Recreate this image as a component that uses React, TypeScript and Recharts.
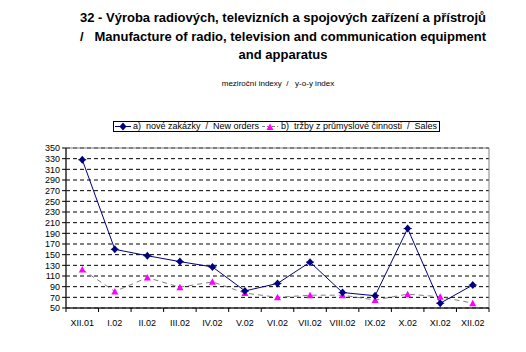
import { LineChart, Line, XAxis, YAxis, CartesianGrid, ReferenceArea } from "recharts";

const MONTHS = ["XII.01", "I.02", "II.02", "III.02", "IV.02", "V.02", "VI.02", "VII.02", "VIII.02", "IX.02", "X.02", "XI.02", "XII.02"];
const NEW_ORDERS = [328, 160, 148, 137, 127, 82, 96, 136, 79, 73, 199, 59, 93];
const SALES = [122, 81, 107, 89, 99, 78, 70, 74, 74, 65, 76, 71, 59];
const Y_TICKS = [50, 70, 90, 110, 130, 150, 170, 190, 210, 230, 250, 270, 290, 310, 330, 350];

const data = MONTHS.map((m, i) => ({ m, orders: NEW_ORDERS[i], sales: SALES[i] }));

const W = 526;
const H = 352;
const X_AXIS_H = 30;
const M = { top: 148, right: 37, bottom: 44 - X_AXIS_H, left: 0 };
const Y_AXIS_W = 66;
const PLOT_BOTTOM = 308;
const HALF = (W - Y_AXIS_W - M.right) / MONTHS.length / 2;
const FONT = "Arial, 'Liberation Sans', sans-serif";

const NAVY = "#000080";
const MAGENTA = "#FF00FF";

function Diamond({ cx, cy }: any) {
  if (cx == null || cy == null) return null;
  return (
    <g>
      <path d={`M${cx},${cy - 4} L${cx + 3.5},${cy} L${cx},${cy + 4} L${cx - 3.5},${cy} Z`} fill={NAVY} />
      <line x1={cx - 4} y1={cy} x2={cx + 4} y2={cy} stroke={NAVY} />
    </g>
  );
}

function Tri({ cx, cy }: any) {
  if (cx == null || cy == null) return null;
  return <path d={`M${cx},${cy - 3.5} L${cx + 3.5},${cy + 3} L${cx - 3.5},${cy + 3} Z`} fill={MAGENTA} />;
}

function MonthTick({ x, payload, index }: any) {
  return (
    <g>
      <line x1={x - HALF} y1={PLOT_BOTTOM} x2={x - HALF} y2={PLOT_BOTTOM + 4} stroke="#000" />
      {index === MONTHS.length - 1 && (
        <line x1={x + HALF} y1={PLOT_BOTTOM} x2={x + HALF} y2={PLOT_BOTTOM + 4} stroke="#000" />
      )}
      <text x={x} y={PLOT_BOTTOM + 18} textAnchor="middle" fontSize={9} fontFamily={FONT} fill="#000">
        {payload.value}
      </text>
    </g>
  );
}

export default function App() {
  return (
    <div style={{ position: "absolute", left: 0, top: 0, width: W, height: H, background: "#fff", fontFamily: FONT }}>
      <div
        style={{
          position: "absolute",
          left: 60,
          width: 446,
          top: 9,
          textAlign: "center",
          fontWeight: "bold",
          fontSize: 13,
          lineHeight: "18.5px",
          whiteSpace: "nowrap",
        }}
      >
        32 - Výroba radiových, televizních a spojových zařízení a přístrojů
        <br />/&nbsp;&nbsp; Manufacture of radio, television and communication equipment
        <br />and apparatus
      </div>
      <div style={{ position: "absolute", left: 80, width: 396, top: 79, textAlign: "center", fontSize: 8 }}>
        meziroční indexy &nbsp;/ &nbsp;&nbsp;y-o-y index
      </div>
      <div
        style={{
          position: "absolute",
          left: 113,
          top: 121,
          width: 325,
          height: 9,
          border: "1px solid #000",
          fontSize: 9,
          lineHeight: "9px",
          display: "flex",
          alignItems: "center",
          whiteSpace: "nowrap",
        }}
      >
        <svg width={16} height={9} style={{ marginLeft: 1 }}>
          <line x1={0} y1={4.5} x2={16} y2={4.5} stroke={NAVY} />
          <Diamond cx={8} cy={4.5} />
        </svg>
        <span style={{ marginLeft: 2 }}>a)&nbsp; nové zakázky&nbsp; /&nbsp; New orders</span>
        <svg width={16} height={9} style={{ marginLeft: 3 }}>
          <line x1={0} y1={4.5} x2={16} y2={4.5} stroke="#808080" strokeDasharray="3 2" />
          <Tri cx={8} cy={5} />
        </svg>
        <span style={{ marginLeft: 3 }}>b)&nbsp; tržby z průmyslové činnosti&nbsp; /&nbsp; Sales</span>
      </div>
      <LineChart width={W} height={H} data={data} margin={M}>
        <CartesianGrid vertical={false} stroke="#000" strokeDasharray="4 3" />
        <ReferenceArea y1={50} y2={350} fill="none" stroke="#808080" ifOverflow="visible" />
        <XAxis
          dataKey="m"
          scale="band"
          interval={0}
          height={X_AXIS_H}
          tickLine={false}
          axisLine={{ stroke: "#000" }}
          tick={<MonthTick />}
        />
        <YAxis
          domain={[50, 350]}
          ticks={Y_TICKS}
          interval={0}
          width={Y_AXIS_W}
          axisLine={{ stroke: "#000" }}
          tickLine={{ stroke: "#000" }}
          tickSize={4}
          tickMargin={2}
          tick={{ fontSize: 9, fontFamily: FONT, fill: "#000" }}
        />
        <Line
          dataKey="sales"
          stroke="#808080"
          strokeDasharray="5 4"
          strokeWidth={1}
          dot={<Tri />}
          activeDot={false}
          isAnimationActive={false}
        />
        <Line dataKey="orders" stroke={NAVY} strokeWidth={1} dot={<Diamond />} activeDot={false} isAnimationActive={false} />
      </LineChart>
    </div>
  );
}
